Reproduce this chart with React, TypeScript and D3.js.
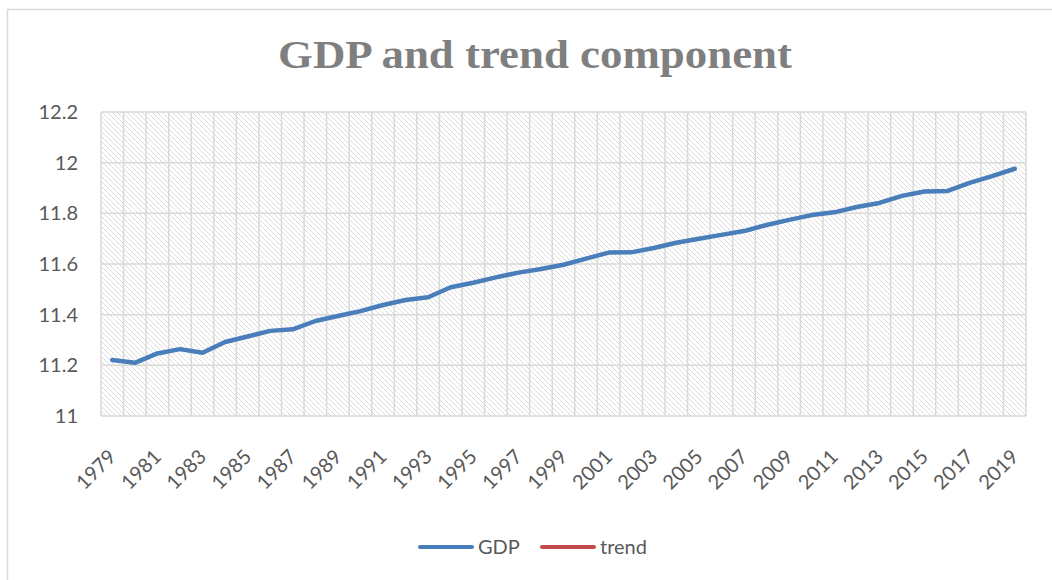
import React from "react";
import * as d3 from "d3";

const years: string[] = d3.range(1979, 2020).map(String);
const gdp: number[] = [
  11.221, 11.21, 11.247, 11.264, 11.25, 11.292, 11.314, 11.336, 11.342, 11.375,
  11.395, 11.414, 11.438, 11.458, 11.469, 11.508, 11.526, 11.547, 11.566, 11.58,
  11.597, 11.621, 11.645, 11.646, 11.663, 11.684, 11.7, 11.715, 11.73, 11.754,
  11.774, 11.793, 11.804, 11.825, 11.841, 11.869, 11.886, 11.888, 11.92, 11.947,
  11.976,
];
const yTicks: number[] = [11, 11.2, 11.4, 11.6, 11.8, 12, 12.2];
const xTickLabels: string[] = years.filter((_, i) => i % 2 === 0);
const legendItems: { name: string; color: string }[] = [
  { name: "GDP", color: "#4a7ebb" },
  { name: "trend", color: "#be4b48" },
];

const W = 1052;
const H = 580;
const plot = { left: 101, right: 1026, top: 112, bottom: 416 };

export default function App() {
  const x = d3
    .scaleBand<string>()
    .domain(years)
    .range([plot.left, plot.right])
    .paddingInner(0)
    .paddingOuter(0);
  const y = d3.scaleLinear().domain([11, 12.2]).range([plot.bottom, plot.top]);
  const line = d3
    .line<number>()
    .x((_, i) => (x(years[i]) as number) + x.bandwidth() / 2)
    .y((d) => y(d));

  const grid = "#d9d9d9";
  const textColor = "#595959";
  const font = "Lato, 'Open Sans', sans-serif";

  const boundaries = d3.range(years.length + 1).map((i) => plot.left + i * x.bandwidth());

  return (
    <svg
      width={W}
      height={H}
      style={{ position: "absolute", left: 0, top: 0, background: "#fff" }}
    >
      <defs>
        <pattern id="hatch" width="5" height="5" patternUnits="userSpaceOnUse">
          <rect width="5" height="5" fill="#ffffff" />
          <path d="M-1,-1 L6,6 M-1,4 L1,6 M4,-1 L6,1" stroke="#dcdcdc" strokeWidth="1" />
        </pattern>
      </defs>
      <rect x={7.5} y={9.5} width={W + 20} height={H + 20} fill="#fff" stroke={grid} strokeWidth={1.5} />
      <text
        x={535}
        y={68}
        textAnchor="middle"
        fontFamily="'Liberation Serif', 'DejaVu Serif', serif"
        fontWeight="bold"
        fontSize={40}
        fill="#7f7f7f"
        textLength={514}
        lengthAdjust="spacingAndGlyphs"
      >
        GDP and trend component
      </text>
      <rect
        x={plot.left}
        y={plot.top}
        width={plot.right - plot.left}
        height={plot.bottom - plot.top}
        fill="url(#hatch)"
      />
      {yTicks.map((t) => (
        <line key={"h" + t} x1={plot.left} x2={plot.right} y1={y(t)} y2={y(t)} stroke={grid} strokeWidth={1.5} />
      ))}
      {boundaries.map((bx, i) => (
        <line key={"v" + i} x1={bx} x2={bx} y1={plot.top} y2={plot.bottom} stroke={grid} strokeWidth={1.5} />
      ))}
      {yTicks.map((t) => (
        <text
          key={"yl" + t}
          x={78}
          y={y(t)}
          dy="0.35em"
          textAnchor="end"
          fontFamily={font}
          fontSize={20}
          fill={textColor}
        >
          {String(t)}
        </text>
      ))}
      {xTickLabels.map((lab) => {
        const cx = (x(lab) as number) + x.bandwidth() / 2;
        return (
          <text
            key={"xl" + lab}
            transform={`translate(${cx + 5},${plot.bottom + 42}) rotate(-45)`}
            textAnchor="end"
            fontFamily={font}
            fontSize={20}
            fill={textColor}
          >
            {lab}
          </text>
        );
      })}
      <path d={line(gdp) || ""} fill="none" stroke="#4a7ebb" strokeWidth={4.5} strokeLinejoin="round" strokeLinecap="round" />
      {legendItems.map((it, i) => {
        const lx = i === 0 ? 420 : 542;
        return (
          <g key={it.name}>
            <line x1={lx} x2={lx + 52} y1={547} y2={547} stroke={it.color} strokeWidth={4} strokeLinecap="round" />
            <text x={lx + 58} y={547} dy="0.35em" fontFamily={font} fontSize={20} fill={textColor}>
              {it.name}
            </text>
          </g>
        );
      })}
    </svg>
  );
}
